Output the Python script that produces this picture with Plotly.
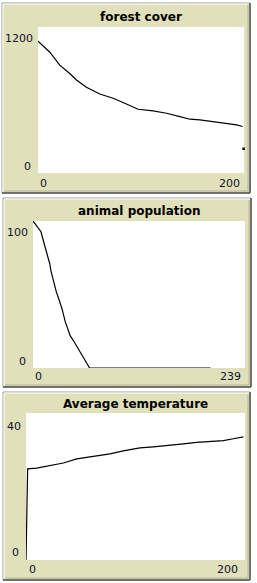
import plotly.graph_objects as go

W, H = 257, 583

# ---------------- data ----------------
forest_x = [0, 11.3, 21.1, 30.8, 37.3, 47, 60, 72.9, 85.9, 97.2, 111.8, 124.8,
            137.8, 147.5, 157.2, 170.2, 183.1, 192.9, 198.7]
forest_y = [1083, 995, 886, 818, 764, 704, 649, 614, 567, 524, 510, 491,
            464, 442, 436, 420, 409, 395, 382]
forest_tail_x = [199.6]
forest_tail_y = [199]

animal_x = [0, 4.5, 9, 12, 15, 18.8, 20.3, 23.3, 26.3, 28.9, 32.6, 36.4,
            42, 46.5, 51.4, 57, 61.5, 63.8, 200]
animal_y = [100, 96, 92.7, 85.9, 79.5, 71.1, 65.9, 58.6, 51.8, 47.3, 40.5, 31.4,
            21.8, 17.7, 12.7, 6.8, 1.8, 0, 0]

temp_x = [0, 1.5, 9.7, 21.9, 34.1, 46.3, 55.4, 64.5, 76.7, 88.9, 104.1, 116.3,
          128.5, 143.7, 155.9, 168, 180.2, 189.3, 198.5]
temp_y = [0, 24.8, 25.0, 25.6, 26.4, 27.5, 27.9, 28.4, 28.9, 29.7, 30.5, 30.8,
          31.1, 31.6, 32.0, 32.2, 32.5, 33.0, 33.5]

titles = ["forest cover", "animal population", "Average temperature"]
x_ranges = [(0, 200), (0, 239), (0, 200)]
y_ranges = [(0, 1200), (0, 100), (0, 40)]
x_tick_labels = [["0", "200"], ["0", "239"], ["0", "200"]]
y_tick_labels = [["0", "1200"], ["0", "100"], ["0", "40"]]

# ---------------- layout geometry (pixels) ----------------
frames = [(2, 3, 250, 193), (3, 198, 251, 387), (3, 392, 250, 580)]
plots = [(38, 27, 244, 173), (33, 221, 245, 368), (26, 413, 245, 560)]
title_y = [17, 211, 404]
ylab_right = [35, 30, 23]
ylab_top_y = [39, 233, 426]
ylab_bot_y = [166, 361, 552]
xlab_y = [183, 377, 569]
xlab_left = [38, 33, 27]
xlab_right = [242, 243, 240]

BEIGE = "#E0E0BA"
TXT = "#10102e"
FONT = "DejaVu Sans"


def px(x):
    return x / W


def py(y):
    return 1 - y / H


fig = go.Figure()

series = [
    (forest_x, forest_y),
    (animal_x, animal_y),
    (temp_x, temp_y),
]

shapes = []
annotations = []
layout_axes = {}

for i in range(3):
    ax = "" if i == 0 else str(i + 1)
    fx0, fy0, fx1, fy1 = frames[i]
    X0, Y0, X1, Y1 = plots[i]
    # panel background with bevel
    shapes.append(dict(type="rect", xref="paper", yref="paper",
                       x0=px(fx0), x1=px(fx1), y0=py(fy1), y1=py(fy0),
                       fillcolor=BEIGE, line=dict(color="#9a9a9a", width=1),
                       layer="below"))
    shapes.append(dict(type="line", xref="paper", yref="paper",
                       x0=px(fx0 + 1), x1=px(fx1 - 1), y0=py(fy0 + 1), y1=py(fy0 + 1),
                       line=dict(color="#ffffff", width=1), layer="below"))
    shapes.append(dict(type="line", xref="paper", yref="paper",
                       x0=px(fx0 + 1), x1=px(fx0 + 1), y0=py(fy0 + 1), y1=py(fy1 - 1),
                       line=dict(color="#ffffff", width=1), layer="below"))
    shapes.append(dict(type="line", xref="paper", yref="paper",
                       x0=px(fx1), x1=px(fx1), y0=py(fy0), y1=py(fy1),
                       line=dict(color="#555555", width=1.5), layer="below"))
    shapes.append(dict(type="line", xref="paper", yref="paper",
                       x0=px(fx0), x1=px(fx1), y0=py(fy1), y1=py(fy1),
                       line=dict(color="#555555", width=1.5), layer="below"))
    shapes.append(dict(type="line", xref="paper", yref="paper",
                       x0=px(fx1 - 2), x1=px(fx1 - 2), y0=py(fy0 + 2), y1=py(fy1 - 2),
                       line=dict(color="#b5b59a", width=1), layer="below"))
    shapes.append(dict(type="line", xref="paper", yref="paper",
                       x0=px(fx0 + 2), x1=px(fx1 - 2), y0=py(fy1 - 2), y1=py(fy1 - 2),
                       line=dict(color="#b5b59a", width=1), layer="below"))
    # white plot area
    shapes.append(dict(type="rect", xref="paper", yref="paper",
                       x0=px(X0), x1=px(X1), y0=py(Y1), y1=py(Y0),
                       fillcolor="white", line=dict(width=0), layer="below"))

    layout_axes["xaxis" + ax] = dict(domain=[px(X0), px(X1)], range=list(x_ranges[i]),
                                     showgrid=False, zeroline=False, showticklabels=False,
                                     showline=False, ticks="", fixedrange=True,
                                     anchor="y" + ax)
    layout_axes["yaxis" + ax] = dict(domain=[py(Y1), py(Y0)], range=list(y_ranges[i]),
                                     showgrid=False, zeroline=False, showticklabels=False,
                                     showline=False, ticks="", fixedrange=True,
                                     anchor="x" + ax)

    xs, ys = series[i]
    fig.add_trace(go.Scatter(x=xs, y=ys, mode="lines", xaxis="x" + ax, yaxis="y" + ax,
                             line=dict(color="black", width=1.2), cliponaxis=False,
                             showlegend=False, hoverinfo="skip"))

    # title
    annotations.append(dict(text="<b>" + titles[i] + "</b>", xref="paper", yref="paper",
                            x=px((X0 + X1) / 2), y=py(title_y[i]), xanchor="center",
                            yanchor="middle", showarrow=False,
                            font=dict(family=FONT, size=12, color="black")))
    # y labels
    annotations.append(dict(text=y_tick_labels[i][1], xref="paper", yref="paper",
                            x=px(ylab_right[i]), y=py(ylab_top_y[i]), xanchor="right",
                            yanchor="middle", showarrow=False,
                            font=dict(family=FONT, size=11, color=TXT)))
    annotations.append(dict(text=y_tick_labels[i][0], xref="paper", yref="paper",
                            x=px(ylab_right[i] - 2), y=py(ylab_bot_y[i]), xanchor="right",
                            yanchor="middle", showarrow=False,
                            font=dict(family=FONT, size=11, color=TXT)))
    # x labels
    annotations.append(dict(text=x_tick_labels[i][0], xref="paper", yref="paper",
                            x=px(xlab_left[i]), y=py(xlab_y[i]), xanchor="left",
                            yanchor="middle", showarrow=False,
                            font=dict(family=FONT, size=11, color=TXT)))
    annotations.append(dict(text=x_tick_labels[i][1], xref="paper", yref="paper",
                            x=px(xlab_right[i]), y=py(xlab_y[i]), xanchor="right",
                            yanchor="middle", showarrow=False,
                            font=dict(family=FONT, size=11, color=TXT)))

fig.add_trace(go.Scatter(x=forest_tail_x, y=forest_tail_y, mode="markers",
                         xaxis="x", yaxis="y",
                         marker=dict(color="black", size=2.5, symbol="square"),
                         cliponaxis=False, showlegend=False, hoverinfo="skip"))

fig.update_layout(width=W, height=H, margin=dict(l=0, r=0, t=0, b=0, pad=0),
                  paper_bgcolor="white", plot_bgcolor="rgba(0,0,0,0)",
                  shapes=shapes, annotations=annotations, showlegend=False,
                  **layout_axes)

fig.write_html("out.html", config={"displayModeBar": False})
